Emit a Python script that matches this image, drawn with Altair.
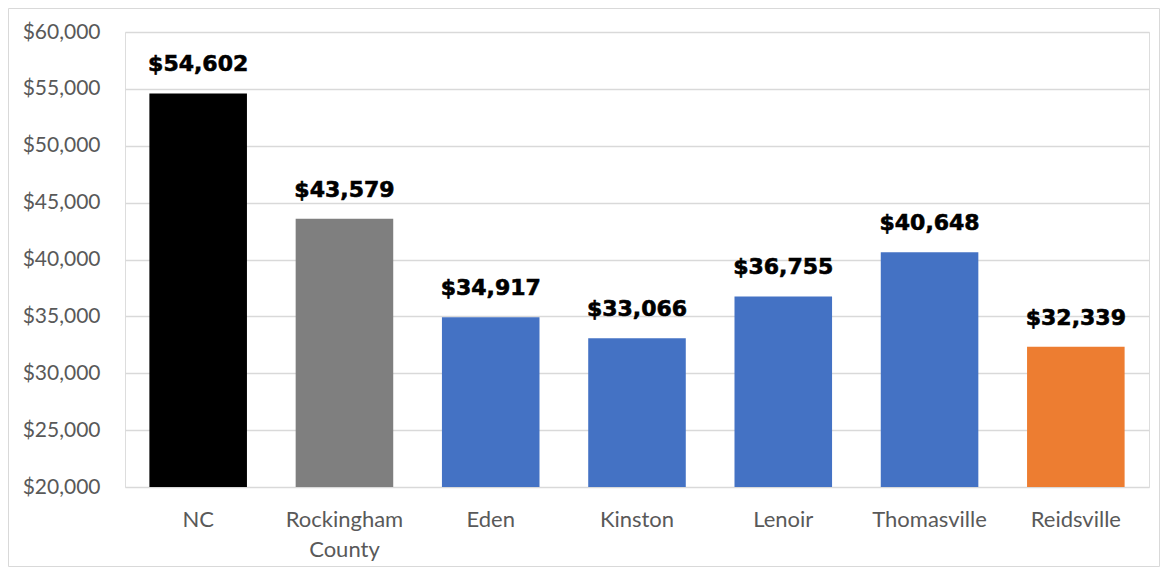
import altair as alt
import pandas as pd

categories = ["NC", "Rockingham County", "Eden", "Kinston", "Lenoir", "Thomasville", "Reidsville"]
values = [54602, 43579, 34917, 33066, 36755, 40648, 32339]
colors = ["#000000", "#7F7F7F", "#4472C4", "#4472C4", "#4472C4", "#4472C4", "#ED7D31"]
y_ticks = [20000, 25000, 30000, 35000, 40000, 45000, 50000, 55000, 60000]

df = pd.DataFrame({"cat": categories, "value": values, "color": colors})
df["label"] = df["value"].map(lambda v: "${:,}".format(v))

W, H = 1024, 455

x = alt.X("cat:N", sort=categories, title=None,
          scale=alt.Scale(paddingInner=0.333, paddingOuter=0.1667),
          axis=alt.Axis(labelAngle=0, ticks=False, domain=False, labelPadding=22,
                        labelFontSize=22, labelFont="Lato", labelColor="#595959",
                        labelLineHeight=30,
                        labelExpr="split(datum.label, ' ')"))

base = alt.Chart(df)

bars = base.mark_bar().encode(
    x=x,
    y=alt.Y("value:Q", title=None,
            scale=alt.Scale(domain=[20000, 60000], zero=False, nice=False),
            axis=alt.Axis(values=y_ticks, format="$,.0f", ticks=False, domain=False,
                          labelFontSize=21, labelFont="Lato", labelColor="#595959",
                          labelPadding=25, gridColor="#D9D9D9", gridWidth=1.3)),
    y2=alt.datum(20000),
    color=alt.Color("color:N", scale=None),
)

text = base.mark_text(baseline="alphabetic", dy=-22, fontSize=22, fontWeight="bold",
                      font="DejaVu Sans", color="#000000", stroke="#000000",
                      strokeWidth=0.6).encode(
    x=alt.X("cat:N", sort=categories),
    y="value:Q",
    text="label:N",
)

frame_df = pd.DataFrame({"a": [0]})
frame = alt.Chart(frame_df).mark_rect(fill=None, stroke="#D9D9D9", strokeWidth=1).encode(
    x=alt.value(-116.5), x2=alt.value(W + 10.5),
    y=alt.value(-23.5), y2=alt.value(H + 79.5),
)

chart = alt.layer(bars, text, frame).properties(
    width=W, height=H,
    autosize=alt.AutoSizeParams(type="none"),
    padding={"left": 117, "top": 24, "right": 11, "bottom": 80},
).configure_view(stroke=None).configure(background="white")

chart.save("out.html", embed_options={"renderer": "svg", "actions": False})
